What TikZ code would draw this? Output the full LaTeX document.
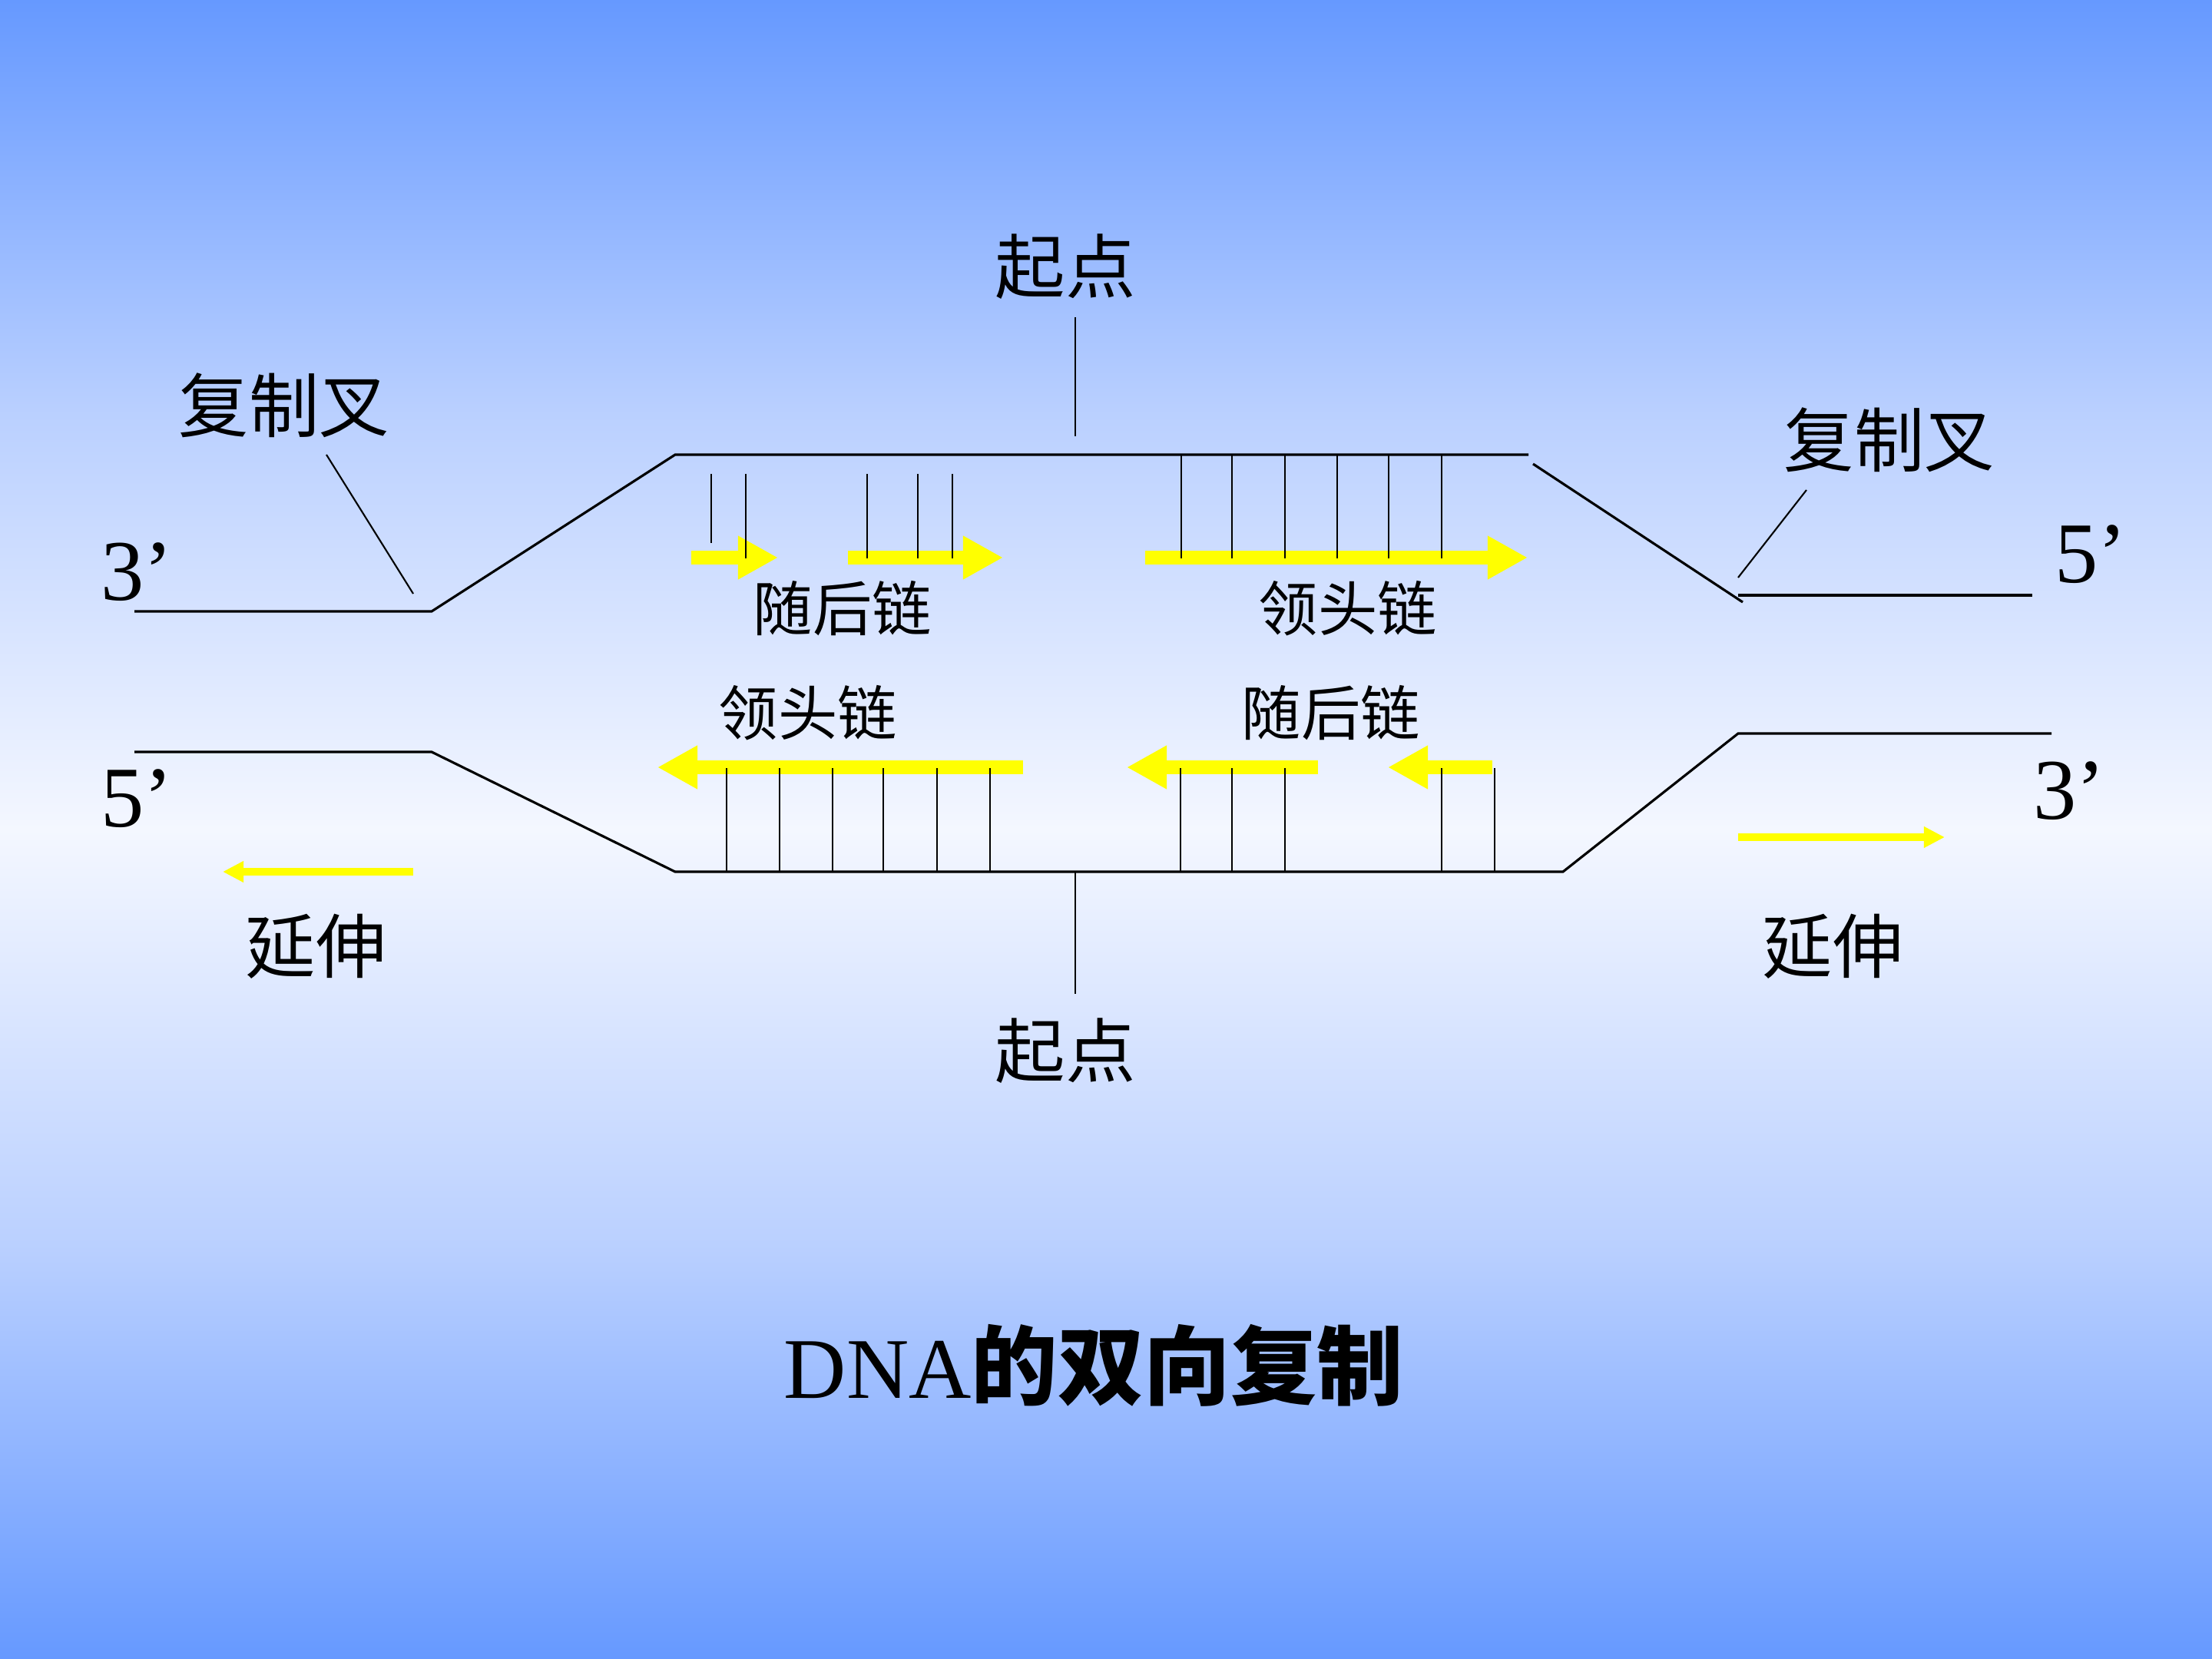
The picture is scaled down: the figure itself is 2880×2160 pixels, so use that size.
\documentclass[tikz,border=0pt]{standalone}
\usepackage{fontspec}
\setmainfont{Liberation Serif}
\newfontfamily\cjk{Noto Sans CJK SC}
\usetikzlibrary{arrows.meta}
\definecolor{bgtop}{RGB}{102,153,255}
\definecolor{bgq}{RGB}{186,208,255}
\definecolor{bgmid}{RGB}{244,247,255}
\definecolor{yel}{RGB}{255,255,0}
\pgfdeclareverticalshading{bgshade}{100bp}{color(0bp)=(bgtop); color(25bp)=(bgtop); color(37.5bp)=(bgq); color(50bp)=(bgmid); color(62.5bp)=(bgq); color(75bp)=(bgtop); color(100bp)=(bgtop)}
\tikzset{
  strand/.style={line width=0.9pt, black, line join=miter},
  tick/.style={line width=0.6pt, black},
  ptr/.style={line width=0.6pt, black},
  ythick/.style={draw=yel, line width=5.1pt, -{Triangle[length=14.8pt,width=15.1pt]}},
  ythin/.style={draw=yel, line width=2.6pt, -{Triangle[length=7.7pt,width=7.4pt]}},
  lbl/.style={font=\cjk\fontsize{26pt}{30pt}\selectfont, inner sep=0pt},
  chain/.style={font=\cjk\fontsize{22pt}{26pt}\selectfont, inner sep=0pt},
  prime/.style={font=\fontsize{32pt}{36pt}\selectfont, inner sep=0pt},
}
\begin{document}
\begin{tikzpicture}[x=0.01cm, y=-0.01cm]
\useasboundingbox (0,0) rectangle (2880,2160);
\shade[shading=bgshade] (0,0) rectangle (2880,2160);

% ---- labels ----
\node[prime] (p3l) at (178,745) {3’};
\node[prime] (p5l) at (178,1040) {5’};
\node[prime] (p5r) at (2722,722) {5’};
\node[prime] (p3r) at (2694,1030) {3’};
\node[lbl] (forkL) at (370,528) {复制叉};
\node[lbl] (forkR) at (2460,573) {复制叉};
\node[lbl] (oriT) at (1387,347) {起点};
\node[lbl] (oriB) at (1387,1368) {起点};
\node[lbl] (extL) at (411,1232) {延伸};
\node[lbl] (extR) at (2386,1232) {延伸};
\node[chain] (lagU) at (1097,792) {随后链};
\node[chain] (leadU) at (1755,792) {领头链};
\node[chain] (leadD) at (1052,928) {领头链};
\node[chain] (lagD) at (1733,928) {随后链};
\node[inner sep=0pt] (title) at (1424,1778)
  {\fontsize{32pt}{38pt}\selectfont DNA{\cjk\bfseries 的双向复制}};

% ---- strand corner coordinates ----
\coordinate (a1) at (175,796);
\coordinate (a2) at (562,796);
\coordinate (a3) at (879,592);
\coordinate (a4) at (1990,592);
\coordinate (a5) at (1996,604);
\coordinate (a6) at (2269,784);
\coordinate (a7) at (2263,775);
\coordinate (a8) at (2646,775);
\coordinate (b1) at (175,979);
\coordinate (b2) at (562,979);
\coordinate (b3) at (879,1135);
\coordinate (b4) at (2035,1135);
\coordinate (b5) at (2263,955);
\coordinate (b6) at (2671,955);

% ---- parental strands ----
\draw[strand] (a1) -- (a2) -- (a3) -- (a4);
\draw[strand] (a5) -- (a6);
\draw[strand] (a7) -- (a8);
\draw[strand] (b1) -- (b2) -- (b3) -- (b4) -- (b5) -- (b6);

% ---- origin and fork pointers ----
\coordinate (oT1) at (1400,413);
\coordinate (oT2) at (1400,568);
\coordinate (oB1) at (1400,1135);
\coordinate (oB2) at (1400,1294);
\draw[ptr] (oT1) -- (oT2);
\draw[ptr] (oB1) -- (oB2);
\coordinate (fL1) at (425,592);
\coordinate (fL2) at (538,773);
\coordinate (fR1) at (2352,638);
\coordinate (fR2) at (2263,752);
\draw[ptr] (fL1) -- (fL2);
\draw[ptr] (fR1) -- (fR2);

% ---- yellow arrows ----
\coordinate (u1s) at (900,726);  \coordinate (u1e) at (1013,726);
\coordinate (u2s) at (1104,726); \coordinate (u2e) at (1306,726);
\coordinate (u3s) at (1491,726); \coordinate (u3e) at (1989,726);
\coordinate (d1s) at (1332,999); \coordinate (d1e) at (856,999);
\coordinate (d2s) at (1716,999); \coordinate (d2e) at (1467,999);
\coordinate (d3s) at (1943,999); \coordinate (d3e) at (1807,999);
\coordinate (tLs) at (538,1135); \coordinate (tLe) at (290,1135);
\coordinate (tRs) at (2263,1090); \coordinate (tRe) at (2532,1090);
\draw[ythick] (u1s) -- (u1e);
\draw[ythick] (u2s) -- (u2e);
\draw[ythick] (u3s) -- (u3e);
\draw[ythick] (d1s) -- (d1e);
\draw[ythick] (d2s) -- (d2e);
\draw[ythick] (d3s) -- (d3e);
\draw[ythin] (tLs) -- (tLe);
\draw[ythin] (tRs) -- (tRe);

% ---- base-pair ticks ----
\draw[tick] (926,617) -- (926,707);
\foreach \x in {971,1129,1195,1240} \draw[tick] (\x,617) -- (\x,727);
\foreach \x in {1538,1604,1673,1741,1808,1877} \draw[tick] (\x,592) -- (\x,727);
\foreach \x in {946,1015,1084,1150,1220,1289} \draw[tick] (\x,1000) -- (\x,1135);
\foreach \x in {1537,1604,1673,1877,1946} \draw[tick] (\x,1000) -- (\x,1135);
\end{tikzpicture}
\end{document}
